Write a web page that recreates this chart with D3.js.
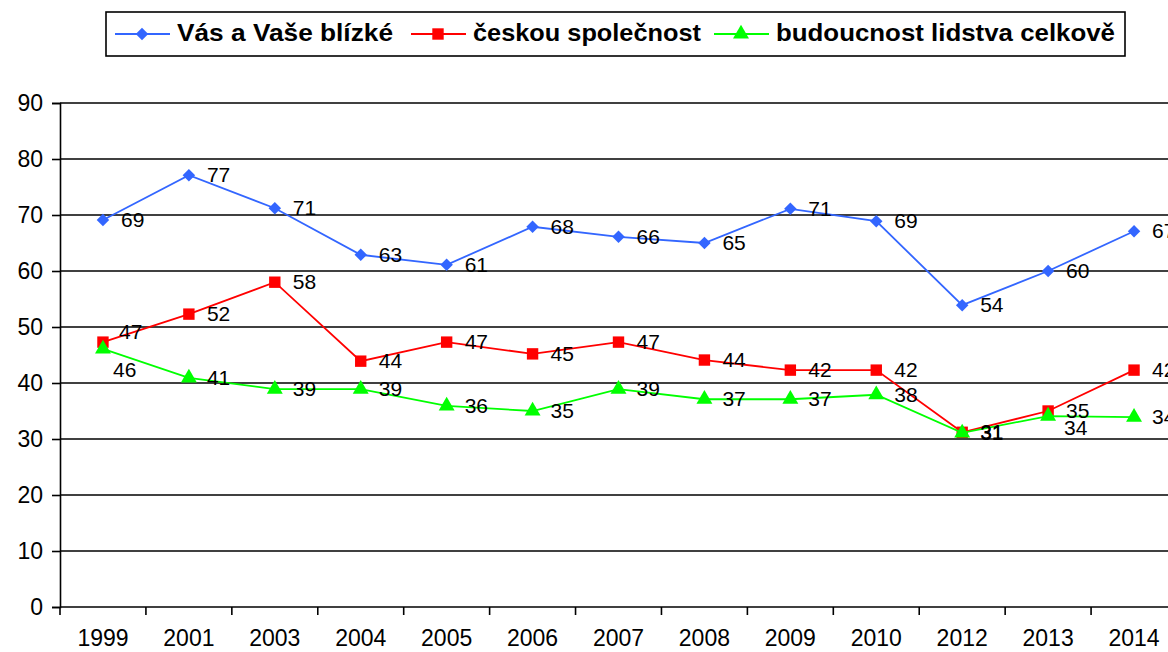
<!DOCTYPE html>
<html>
<head>
<meta charset="utf-8">
<script src="https://cdn.jsdelivr.net/npm/d3@7"></script>
<style>
  html, body { margin: 0; padding: 0; background: #fff; }
  svg { display: block; font-family: "Liberation Sans", Arial, sans-serif; }
</style>
</head>
<body>
<div class="chart"></div>
<script>
var years = ['1999', '2001', '2003', '2004', '2005', '2006', '2007', '2008', '2009', '2010', '2012', '2013', '2014'];
var seriesNames = ['Vás a Vaše blízké', 'českou společnost', 'budoucnost lidstva celkově'];
var blizke = [69.1, 77.1, 71.2, 62.9, 61.1, 67.9, 66.1, 65.0, 71.1, 68.9, 53.9, 60.0, 67.1];
var spolecnost = [47.3, 52.3, 58.0, 43.9, 47.3, 45.2, 47.3, 44.1, 42.3, 42.3, 31.2, 35.0, 42.3];
var lidstvo = [46.1, 40.9, 38.9, 38.9, 35.9, 35.0, 38.9, 37.1, 37.1, 37.9, 31.1, 34.1, 33.9];
var yTicks = [0, 10, 20, 30, 40, 50, 60, 70, 80, 90];

(function () {
    'use strict';

    var width = 1168, height = 652;
    var left = 60, top = 103, bottom = 607, right = 1177;

    var svg = d3.select('.chart').append('svg')
        .attr('width', width)
        .attr('height', height);

    var x = d3.scaleBand().domain(years).range([left, right]);
    var y = d3.scaleLinear().domain([0, 90]).range([bottom, top]);

    // gridlines
    svg.append('g').selectAll('line').data(yTicks.slice(1)).enter().append('line')
        .attr('x1', left).attr('x2', width)
        .attr('y1', function (d) { return y(d); })
        .attr('y2', function (d) { return y(d); })
        .attr('stroke', '#000').attr('stroke-width', 1.6);

    // y axis
    var yAxis = svg.append('g')
        .attr('transform', 'translate(' + left + ',0)')
        .call(d3.axisLeft(y).tickValues(yTicks).tickSize(8).tickPadding(9));
    yAxis.select('.domain').attr('stroke', '#000').attr('stroke-width', 1.6);
    yAxis.selectAll('line').attr('stroke', '#000').attr('stroke-width', 1.6);
    yAxis.selectAll('text').attr('font-size', 23).attr('fill', '#000')
        .attr('font-family', '"Liberation Sans", Arial, sans-serif');

    // x axis: ticks between categories
    svg.append('line')
        .attr('x1', left).attr('x2', width)
        .attr('y1', bottom).attr('y2', bottom)
        .attr('stroke', '#000').attr('stroke-width', 1.6);
    svg.append('g').selectAll('line').data(years).enter().append('line')
        .attr('x1', function (d) { return x(d); })
        .attr('x2', function (d) { return x(d); })
        .attr('y1', bottom).attr('y2', bottom + 8)
        .attr('stroke', '#000').attr('stroke-width', 1.6);
    svg.append('g').selectAll('text').data(years).enter().append('text')
        .attr('x', function (d) { return x(d) + x.bandwidth() / 2; })
        .attr('y', 646)
        .attr('text-anchor', 'middle')
        .attr('font-size', 23)
        .text(function (d) { return d; });

    var series = [
        { name: seriesNames[0], values: blizke, color: '#3366ff', symbol: d3.symbolSquare, size: 78, rot: 45 },
        { name: seriesNames[1], values: spolecnost, color: '#ff0000', symbol: d3.symbolSquare, size: 130, rot: 0 },
        { name: seriesNames[2], values: lidstvo, color: '#00ff00', symbol: d3.symbolTriangle, size: 110, rot: 0 }
    ];

    // label nudges where Excel moved overlapping labels
    var nudge = {
        '1-0': [-2, -10],
        '2-0': [-8, 21],
        '2-11': [-2, 12]
    };

    var line = d3.line()
        .x(function (d, i) { return x(years[i]) + x.bandwidth() / 2; })
        .y(function (d) { return y(d); });

    series.forEach(function (s) {
        var g = svg.append('g');
        g.append('path')
            .datum(s.values)
            .attr('d', line)
            .attr('fill', 'none')
            .attr('stroke', s.color)
            .attr('stroke-width', 1.8);

        g.selectAll('.pt').data(s.values).enter().append('path')
            .attr('class', 'pt')
            .attr('d', d3.symbol().type(s.symbol).size(s.size))
            .attr('transform', function (d, i) {
                return 'translate(' + (x(years[i]) + x.bandwidth() / 2) + ',' + y(d) + ') rotate(' + s.rot + ')';
            })
            .attr('fill', s.color);
    });

    series.forEach(function (s, si) {
        svg.append('g').selectAll('text').data(s.values).enter().append('text')
            .attr('x', function (d, i) {
                var n = nudge[si + '-' + i] || [0, 0];
                return x(years[i]) + x.bandwidth() / 2 + 18 + n[0];
            })
            .attr('y', function (d, i) {
                var n = nudge[si + '-' + i] || [0, 0];
                return y(d) + 7 + n[1];
            })
            .attr('font-size', 21)
            .text(function (d) { return Math.round(d); });
    });

    // legend
    var legend = svg.append('g');
    legend.append('rect')
        .attr('x', 106).attr('y', 12)
        .attr('width', 1019).attr('height', 44)
        .attr('fill', '#fff').attr('stroke', '#000').attr('stroke-width', 1.6);

    var legendPos = [115, 411, 714];
    var legendWidths = [216, 228, 339];
    series.forEach(function (s, i) {
        var lx = legendPos[i];
        legend.append('line')
            .attr('x1', lx).attr('x2', lx + 55)
            .attr('y1', 34).attr('y2', 34)
            .attr('stroke', s.color).attr('stroke-width', 1.8);
        legend.append('path')
            .attr('d', d3.symbol().type(s.symbol).size(s.size))
            .attr('transform', 'translate(' + (lx + 27) + ',34) rotate(' + s.rot + ')')
            .attr('fill', s.color);
        legend.append('text')
            .attr('x', lx + 62).attr('y', 41)
            .attr('font-size', 24)
            .attr('font-weight', 'bold')
            .attr('textLength', legendWidths[i])
            .attr('lengthAdjust', 'spacingAndGlyphs')
            .text(s.name);
    });
})();
</script>
</body>
</html>
